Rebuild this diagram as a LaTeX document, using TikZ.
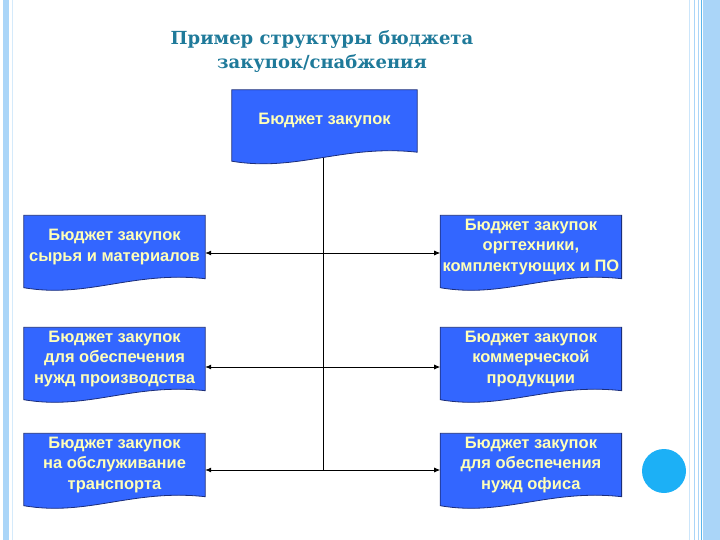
\documentclass[tikz,border=0pt]{standalone}
\usepackage{fontspec}
\setmainfont{Liberation Sans}
\newfontfamily\titlefont{DejaVu Serif}
\usepackage{tikz}
\usetikzlibrary{positioning,arrows.meta,calc,backgrounds}
\usepackage{xcolor}

\definecolor{boxblue}{HTML}{3366FF}
\definecolor{boxedge}{HTML}{1C2E7A}
\definecolor{boxtext}{HTML}{FFFFB8}
\definecolor{titleteal}{HTML}{1F7A9A}
\definecolor{framelight}{HTML}{AAD5F8}
\definecolor{framedark}{HTML}{5DB6EA}
\definecolor{dotblue}{HTML}{1CB0F6}

% document shape with a wavy bottom edge behind a named node
\newcommand{\docshape}[1]{%
  \filldraw[docfill] (#1.north west) -- (#1.north east) -- (#1.south east)
    .. controls ($(#1.south east)!0.4!(#1.south west)+(0,-8)$)
    and ($(#1.south west)!0.35!(#1.south east)+(0,20)$) .. ($(#1.south west)+(0,9)$)
    -- cycle;}

\begin{document}
\begin{tikzpicture}[
  x=1pt, y=-1pt,
  node distance=235pt,
  budget/.style={
    rectangle, inner sep=0pt,
    minimum width=181pt, minimum height=63pt,
    align=center, text=boxtext,
    font=\bfseries\fontsize{16.5}{20.5}\selectfont
  },
  docfill/.style={fill=boxblue, draw=boxedge, line width=0.8pt},
  heading/.style={
    align=center, text=titleteal,
    font=\titlefont\bfseries\fontsize{18}{24}\selectfont
  },
  link/.style={line width=0.8pt, black},
  arr/.style={link, -{Latex[length=6pt,width=5pt]}}
]
\useasboundingbox (0,0) rectangle (720,540);

% frame strips
\fill[framelight] (3,0) rectangle (9,540);
\draw[framelight!50, line width=0.8pt] (12,0) -- (12,540);
\draw[framelight!60, line width=1pt] (689,0) -- (689,540);
\draw[framelight, line width=1pt] (694,0) -- (694,540);
\draw[framelight, line width=1pt] (698,0) -- (698,540);
\draw[framedark, line width=1pt] (701.5,0) -- (701.5,540);
\fill[framelight] (703,0) rectangle (720,540);

\node[heading] (title) at (322,52) {Пример структуры бюджета\\закупок/снабжения};

\node[budget, minimum width=185pt, minimum height=62pt] (top) at (324.5,121) {Бюджет закупок};

\node[budget] (l1) at (114.5,247) {Бюджет закупок\\сырья и материалов};
\node[budget] (l2) at (114.5,359) {Бюджет закупок\\для обеспечения\\нужд производства};
\node[budget] (l3) at (114.5,465) {Бюджет закупок\\на обслуживание\\транспорта};

\node[budget, right=of l1] (r1) {Бюджет закупок\\оргтехники,\\комплектующих и ПО};
\node[budget, right=of l2] (r2) {Бюджет закупок\\коммерческой\\продукции};
\node[budget, right=of l3] (r3) {Бюджет закупок\\для обеспечения\\нужд офиса};

\node[circle, fill=dotblue, minimum size=44pt, inner sep=0pt] (mark) at (664,471) {};

\coordinate (j1) at (323,253);
\coordinate (j2) at (323,367);
\coordinate (j3) at (323,470);

\begin{pgfonlayer}{background}
  \draw[link] (top.south -| j1) -- (j3);
  \foreach \j/\a/\b in {j1/l1/r1, j2/l2/r2, j3/l3/r3} {
    \draw[arr] (\j) -- (\a.east |- \j);
    \draw[arr] (\j) -- (\b.west |- \j);
  }
  \foreach \n in {top, l1, l2, l3, r1, r2, r3}
    \docshape{\n};
\end{pgfonlayer}

\end{tikzpicture}
\end{document}
